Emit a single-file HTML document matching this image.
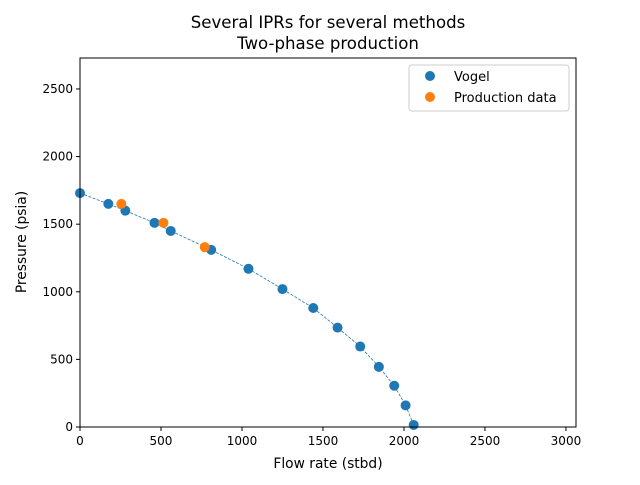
<!DOCTYPE html>
<html><head><meta charset="utf-8"><style>
body{margin:0;background:#fff;font-family:"Liberation Sans","DejaVu Sans",sans-serif;}
svg text{font-family:"DejaVu Sans","Liberation Sans",sans-serif;}
</style></head><body>
<svg id="chart" width="640" height="480" xmlns="http://www.w3.org/2000/svg">
<rect width="640" height="480" fill="#fff"/>
<text x="328" y="28" text-anchor="middle" font-size="16.6">Several IPRs for several methods</text>
<text x="328" y="49" text-anchor="middle" font-size="16.6">Two-phase production</text>
<g id="plot"></g>
<text x="328" y="468" text-anchor="middle" font-size="13.8">Flow rate (stbd)</text>
<text transform="translate(26,242) rotate(-90)" text-anchor="middle" font-size="13.8">Pressure (psia)</text>
<g>
<rect x="409" y="65" width="160" height="46" fill="#fff" stroke="#ccc" rx="3"/>
<circle cx="430" cy="76" r="5" fill="#1f77b4"/>
<text x="454" y="81" font-size="13">Vogel</text>
<circle cx="430" cy="97" r="5" fill="#ff7f0e"/>
<text x="454" y="102" font-size="13">Production data</text>
</g>
</svg>
<script>
const vogelQ=[0,175,280,460,560,810,1040,1250,1440,1590,1730,1845,1940,2010,2060];
const vogelP=[1730,1650,1600,1510,1450,1310,1170,1020,880,735,595,445,305,160,15];
const prodQ=[255,515,770];
const prodP=[1650,1510,1330];
const xTicks=[0,500,1000,1500,2000,2500,3000];
const yTicks=[0,500,1000,1500,2000,2500];
const L=80,R=576,T=58,B=427,XMAX=3062,YMAX=2729;
const xs=v=>L+v/XMAX*(R-L), ys=v=>B-v/YMAX*(B-T);
const NS="http://www.w3.org/2000/svg", g=document.getElementById('plot');
function mk(t,a){const e=document.createElementNS(NS,t);for(const k in a)e.setAttribute(k,a[k]);g.appendChild(e);return e;}
const line=mk('polyline',{points:vogelQ.map((q,i)=>xs(q)+','+ys(vogelP[i])).join(' '),fill:'none',stroke:'#1f77b4','stroke-width':0.8,'stroke-dasharray':'3,1.5'});


vogelQ.forEach((q,i)=>{const c=mk('circle',{cx:xs(q),cy:ys(vogelP[i]),r:5,fill:'#1f77b4'});

});
prodQ.forEach((q,i)=>{const c=mk('circle',{cx:xs(q),cy:ys(prodP[i]),r:5,fill:'#ff7f0e'});

});
xTicks.forEach(v=>{const x=xs(v);mk('line',{x1:x,x2:x,y1:B,y2:B+4,stroke:'#000'});
const t=mk('text',{x:x,y:B+18,'text-anchor':'middle','font-size':12});t.textContent=v;

});
yTicks.forEach(v=>{const y=ys(v);mk('line',{x1:L-4,x2:L,y1:y,y2:y,stroke:'#000'});
const t=mk('text',{x:L-7,y:y+4,'text-anchor':'end','font-size':12});t.textContent=v;

});
const f=mk('rect',{x:L,y:T,width:R-L,height:B-T,fill:'none',stroke:'#000','stroke-width':1});


</script>
</body></html>
